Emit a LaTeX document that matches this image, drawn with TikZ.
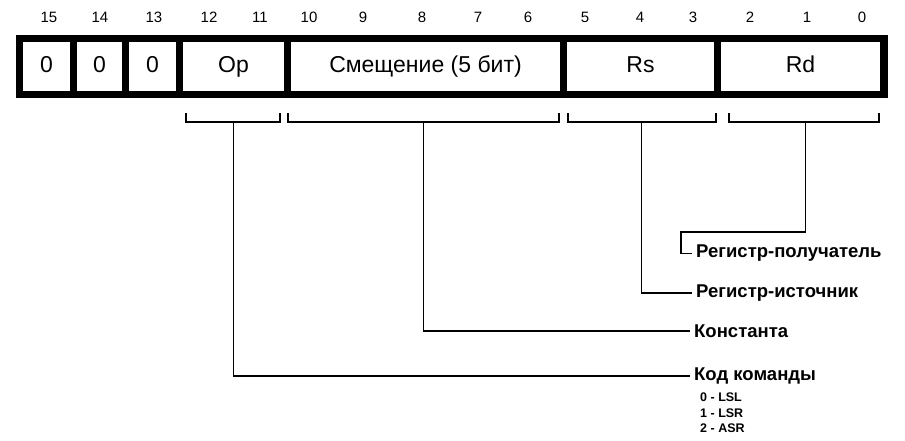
\documentclass[tikz,border=0pt]{standalone}
\usepackage{fontspec}
\setmainfont{Liberation Sans}
\usetikzlibrary{positioning}
\begin{document}
\begin{tikzpicture}[x=1pt,y=-1pt,
  bar/.style={rectangle,fill=black,inner sep=0pt},
  cell/.style={rectangle,fill=white,minimum height=49pt,inner sep=0pt,text height=17pt,text depth=5pt,font=\fontsize{23}{25}\selectfont},
  bitnum/.style={font=\fontsize{15}{17}\selectfont},
  lbl/.style={anchor=west,inner xsep=4pt,inner ysep=0pt,font=\fontsize{18.5}{20}\selectfont\bfseries},
  brk/.style={line width=1.2pt},
  con/.style={line width=1.2pt}]
\useasboundingbox (0,0) rectangle (905,440);
\fill[white] (0,0) rectangle (905,440);
% register
\draw (452,66.5)node[bar,minimum width=872pt,minimum height=63pt](reg){};
\draw (46.5,66.5)node[cell,minimum width=47pt](b15){0};
\draw (99.5,66.5)node[cell,minimum width=45pt](b14){0};
\draw (152.5,66.5)node[cell,minimum width=47pt](b13){0};
\draw (233.5,66.5)node[cell,minimum width=101pt](op){Op};
\draw (425.5,66.5)node[cell,minimum width=269pt](off){Смещение (5 бит)};
\draw (640.5,66.5)node[cell,minimum width=147pt](rs){Rs};
\draw (800.5,66.5)node[cell,minimum width=159pt](rd){Rd};
% bit numbers
\foreach \x/\n in {49/15,100/14,154/13,209/12,260/11,309/10,363/9,422/8,478/7,528/6,585/5,640/4,693/3,750/2,807/1,862/0}
  \draw (\x,17)node[bitnum](n\n){\n};
% brackets
\draw[brk] (186,113)|-(280,122)--(280,113);
\draw[brk] (288,113)|-(559,122)--(559,113);
\draw[brk] (568,113)|-(716,122)--(716,113);
\draw[brk] (729,113)|-(879,122)--(879,113);
\coordinate (opb) at (233.5,122);
\coordinate (offb) at (423.5,122);
\coordinate (rsb) at (641.5,122);
\coordinate (rdb) at (805.5,122);
% labels
\draw (692,253.5)node[lbl](dst){Регистр-получатель};
\draw (692,293)node[lbl](src){Регистр-источник};
\draw (690,331)node[lbl](cnst){Константа};
\draw (690,376)node[lbl](code){Код команды};
\draw (700,413)node[anchor=west,inner sep=0pt,align=left,font=\fontsize{12.5}{15.5}\selectfont\bfseries](ops){0 - LSL\\1 - LSR\\2 - ASR};
% connectors
\draw[con] (rdb)--(805.5,232)-|(681,253.5)--(dst.west);
\draw[con] (rsb)|-(src.west);
\draw[con] (offb)|-(cnst.west);
\draw[con] (opb)|-(code.west);
\end{tikzpicture}
\end{document}
